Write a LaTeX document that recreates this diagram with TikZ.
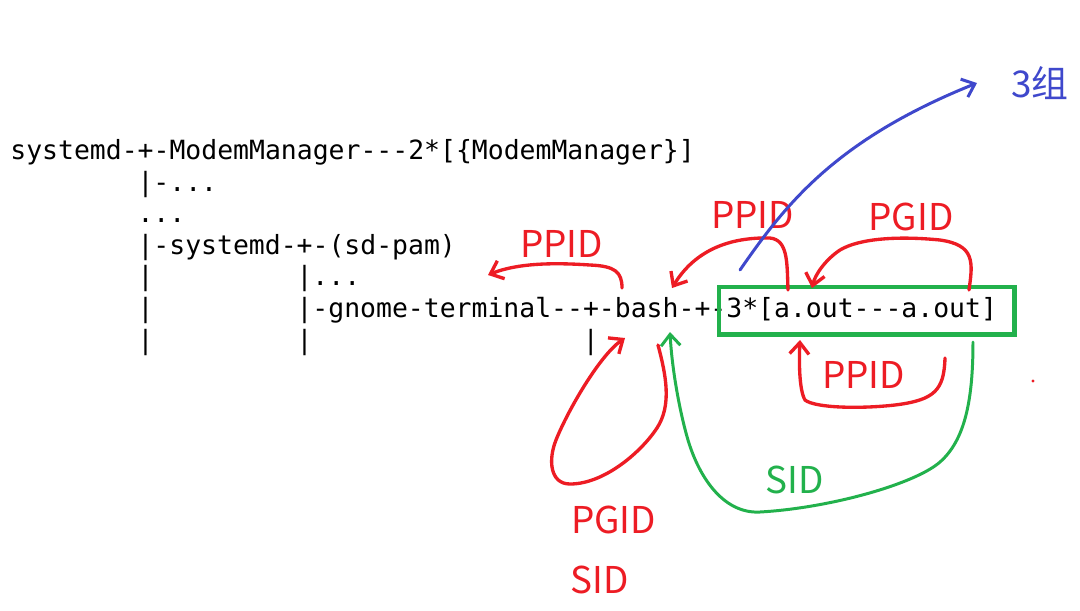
\documentclass[tikz,border=0pt]{standalone}
\usepackage{fontspec}
\setmonofont{DejaVu Sans Mono}
\newfontfamily\cjk{Noto Sans CJK SC}
\usetikzlibrary{arrows.meta}
\definecolor{pred}{RGB}{237,28,36}
\definecolor{pgreen}{RGB}{34,177,76}
\definecolor{pblue}{RGB}{63,72,204}
\tikzset{
  tt/.style={anchor=base west, inner sep=0pt, font=\ttfamily\fontsize{15.05}{18}\selectfont},
  lab/.style={anchor=base, inner sep=0pt, font=\cjk\fontsize{21}{24}\selectfont},
  barb/.style={-{Straight Barb[length=6.5pt,width=11pt]}},
  redarrow/.style={barb, draw=pred, line width=1.9pt, line cap=round, line join=round},
  greenarrow/.style={barb, draw=pgreen, line width=1.7pt, line cap=round, line join=round},
  bluearrow/.style={barb, draw=pblue, line width=1.7pt, line cap=round, line join=round},
}
\begin{document}
\begin{tikzpicture}[x=0.02cm, y=-0.02cm]
\useasboundingbox (0,0) rectangle (1080,610);
\fill[white] (0,0) rectangle (1080,610);
% process tree text (monospace, ~15.9px per column)
\node[tt] (l1)  at (10,159.5)    {systemd-+-ModemManager---2*[\{ModemManager\}]};
\node[tt] (l2)  at (137.2,191.1) {|-...};
\node[tt] (l3)  at (137.2,222.7) {...};
\node[tt] (l4)  at (137.2,254.3) {|-systemd-+-(sd-pam)};
\node[tt] (l5a) at (137.2,285.9) {|};
\node[tt] (l5b) at (296.2,285.9) {|...};
\node[tt] (l6a) at (137.2,317.5) {|};
\node[tt] (l6b) at (296.2,317.5) {|-gnome-terminal--+-bash-+-3*[a.out---a.out]};
\node[tt] (l7a) at (137.2,349.1) {|};
\node[tt] (l7b) at (296.2,349.1) {|};
\node[tt] (l7c) at (582.5,349.1) {|};
% group box
\node[draw=pgreen, line width=2.8pt, minimum width=5.91cm, minimum height=0.95cm, inner sep=0pt] (grp) at (866.75,310.75) {};
% labels
\node[lab, text=pred]   (ppid1) at (561.5,257) {PPID};
\node[lab, text=pred]   (ppid2) at (752.5,228) {PPID};
\node[lab, text=pred]   (pgid1) at (911,230)   {PGID};
\node[lab, text=pred]   (ppid3) at (863.5,388) {PPID};
\node[lab, text=pred]   (pgid2) at (613.5,533) {PGID};
\node[lab, text=pred]   (sid1)  at (599.5,593) {SID};
\node[lab, text=pgreen] (sid2)  at (794.5,493) {SID};
\node[lab, text=pblue]  (grp3)  at (1040,97)   {3组};
% arrow end points
\coordinate (aS) at (622,288);  \coordinate (aE) at (488,275);
\coordinate (bS) at (788,290);  \coordinate (bE) at (672,288);
\coordinate (cS) at (969,290);  \coordinate (cE) at (812,288);
\coordinate (dS) at (945,358);  \coordinate (dE) at (800,340);
\coordinate (eS) at (658,345);  \coordinate (eE) at (625,338);
\coordinate (fS) at (973,342);  \coordinate (fE) at (670,332);
\coordinate (gS) at (740,270);  \coordinate (gE) at (977,83);
% red arrows
\draw[redarrow] (aS) .. controls (622,272) and (615,266) .. (590,265)
  .. controls (560,263) and (520,262) .. (aE);
\draw[redarrow] (bS) .. controls (787,262) and (788,240) .. (770,238)
  .. controls (730,237) and (695,250) .. (bE);
\draw[redarrow] (cS) .. controls (973,262) and (975,245) .. (940,240)
  .. controls (900,236) and (860,238) .. (840,250)
  .. controls (825,260) and (815,275) .. (cE);
\draw[redarrow] (dS) .. controls (944,390) and (935,400) .. (895,405)
  .. controls (860,409) and (815,408) .. (805,400)
  .. controls (799,390) and (799,360) .. (dE);
\draw[redarrow] (eS) .. controls (666,375) and (672,405) .. (657,428)
  .. controls (642,451) and (605,484) .. (570,484)
  .. controls (550,484) and (548,460) .. (556,440)
  .. controls (568,410) and (600,355) .. (eE);
% green arrow
\draw[greenarrow] (fS) .. controls (973,400) and (965,440) .. (940,462)
  .. controls (915,484) and (830,508) .. (760,512)
  .. controls (725,514) and (700,480) .. (688,440)
  .. controls (680,413) and (672,370) .. (fE);
% blue arrow
\draw[bluearrow] (gS) .. controls (785,205) and (835,140) .. (gE);
% stray dot
\fill[pred] (1033,381) circle (1.6);
\end{tikzpicture}
\end{document}
